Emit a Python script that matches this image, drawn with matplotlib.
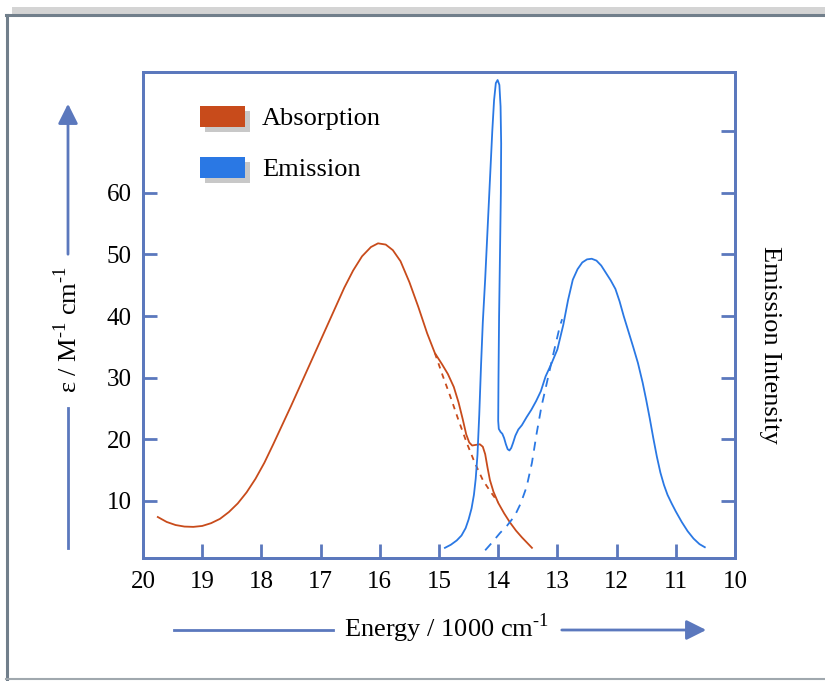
import matplotlib
matplotlib.use("Agg")
import matplotlib.pyplot as plt
from matplotlib.patches import Rectangle, FancyArrowPatch
from matplotlib.lines import Line2D

plt.rcParams['font.family'] = ['Liberation Serif', 'DejaVu Serif']
plt.rcParams['mathtext.fontset'] = 'custom'
plt.rcParams['mathtext.rm'] = 'Liberation Serif'

# absorption spectrum (energy in 1000 cm-1, epsilon)
abs_energy = [19.75, 19.6, 19.45, 19.3, 19.15, 19.0, 18.85, 18.7, 18.55, 18.4,
              18.25, 18.1, 17.95, 17.8, 17.65, 17.5, 17.35, 17.2, 17.05, 16.9,
              16.75, 16.6, 16.45, 16.3, 16.15, 16.03, 15.9, 15.78, 15.65, 15.5,
              15.35, 15.2, 15.07, 14.95, 14.85, 14.75, 14.67, 14.6, 14.54, 14.49,
              14.44, 14.38, 14.31, 14.26, 14.22, 14.18, 14.14, 14.08, 14.0, 13.9,
              13.8, 13.7, 13.6, 13.5, 13.43]
abs_eps = [7.4, 6.6, 6.1, 5.85, 5.8, 5.95, 6.4, 7.1, 8.2, 9.6,
           11.4, 13.6, 16.2, 19.2, 22.3, 25.4, 28.6, 31.8, 35.0, 38.2,
           41.4, 44.6, 47.4, 49.7, 51.2, 51.8, 51.6, 50.7, 48.9, 45.5,
           41.5, 37.2, 34.0, 32.2, 30.6, 28.5, 26.0, 23.3, 20.8, 19.5,
           19.0, 19.1, 19.2, 18.8, 17.6, 15.4, 13.4, 11.5, 9.7, 8.0,
           6.5, 5.2, 4.1, 3.1, 2.4]

# deconvoluted absorption band (dashed)
abs_fit_energy = [15.07, 14.94, 14.81, 14.67, 14.53, 14.4, 14.26, 14.13, 14.0]
abs_fit_eps = [34.0, 30.4, 27.0, 23.1, 19.4, 16.3, 13.4, 11.5, 9.8]

# emission spectrum
em_energy = [14.9, 14.8, 14.7, 14.62, 14.55, 14.5, 14.45, 14.41, 14.38, 14.35,
             14.32, 14.29, 14.26, 14.22, 14.18, 14.14, 14.1, 14.07, 14.04, 14.01,
             13.98, 13.96, 13.95, 13.955, 13.97, 13.985, 13.995, 14.0, 13.99, 13.96,
             13.93, 13.9, 13.87, 13.84, 13.81, 13.78, 13.75, 13.71, 13.66, 13.6,
             13.52, 13.44, 13.36, 13.28, 13.2, 13.1, 13.0, 12.9, 12.82, 12.74,
             12.66, 12.58, 12.5, 12.42, 12.34, 12.26, 12.18, 12.1, 12.02, 11.95,
             11.88, 11.8, 11.72, 11.64, 11.56, 11.5, 11.44, 11.38, 11.32, 11.26,
             11.2, 11.14, 11.07, 11.0, 10.9, 10.8, 10.7, 10.6, 10.51]
em_int = [2.4, 2.9, 3.6, 4.4, 5.6, 7.0, 8.8, 11.0, 13.6, 17.5,
          24.0, 32.0, 39.0, 46.0, 54.0, 62.0, 70.0, 75.0, 77.8, 78.3,
          77.5, 74.0, 68.0, 60.0, 50.0, 40.0, 30.0, 23.0, 21.7, 21.2,
          20.9, 20.2, 19.2, 18.4, 18.2, 18.6, 19.4, 20.6, 21.6, 22.3,
          23.6, 24.8, 26.2, 27.8, 30.2, 32.3, 34.6, 38.6, 42.6, 45.9,
          47.6, 48.7, 49.2, 49.3, 49.0, 48.2, 47.0, 45.8, 44.4, 42.4,
          40.0, 37.5, 35.0, 32.4, 29.2, 26.4, 23.4, 20.2, 17.2, 14.6,
          12.6, 11.0, 9.6, 8.3, 6.6, 5.1, 3.9, 3.0, 2.5]

# emission band (dashed)
em_fit_energy = [14.22, 14.1, 13.97, 13.85, 13.72, 13.62, 13.52, 13.43, 13.35,
                 13.27, 13.18, 13.07, 12.96, 12.92]
em_fit_int = [2.0, 3.3, 4.8, 6.0, 7.6, 9.6, 12.3, 16.2, 21.0,
              25.3, 29.1, 33.8, 38.3, 39.5]

x_ticks = [20, 19, 18, 17, 16, 15, 14, 13, 12, 11, 10]
y_ticks = [10, 20, 30, 40, 50, 60]
y_ticks_right = [10, 20, 30, 40, 50, 60, 70]

RED = '#c84b1b'
BLUE = '#2a78e4'
AXC = '#5b78bd'
W, H = 825, 681


def fx(px):
    return px / W


def fy(py):
    return 1 - py / H


fig = plt.figure(figsize=(8.25, 6.81), dpi=100)

# outer frame
fig.add_artist(Rectangle((fx(12), fy(15)), 1, 8 / H, transform=fig.transFigure,
                         facecolor='#d4d4d4', edgecolor='none'))
fig.add_artist(Line2D([fx(6), 1], [fy(15), fy(15)], transform=fig.transFigure,
                      color='#717f8b', lw=2.2))
fig.add_artist(Line2D([fx(7), fx(7)], [fy(15), 0], transform=fig.transFigure,
                      color='#717f8b', lw=2.2))
fig.add_artist(Line2D([fx(6), 1], [fy(679), fy(679)], transform=fig.transFigure,
                      color='#a0a8ae', lw=1.5))

ax = fig.add_axes([fx(143), fy(558), fx(735) - fx(143), fy(72) - fy(558)])
ax.plot(abs_energy, abs_eps, color=RED, lw=1.3)
ax.plot(abs_fit_energy, abs_fit_eps, color=RED, lw=1.3, ls=(0, (3, 3)))
ax.plot(em_energy, em_int, color=BLUE, lw=1.3)
ax.plot(em_fit_energy, em_fit_int, color=BLUE, lw=1.3, ls=(0, (5, 4)))

ax.set_xlim(20, 10)
ax.set_ylim(0.75, 79.6)
ax.set_xticks(x_ticks)
ax.set_xticklabels([str(t) for t in x_ticks])
ax.set_yticks(y_ticks)
ax.tick_params(direction='in', length=10, width=2, color=AXC, labelsize=18,
               pad=8)
ax.tick_params(axis='x', pad=9)
for s in ax.spines.values():
    s.set_color(AXC)
    s.set_linewidth(2)

ax2 = ax.twinx()
ax2.set_ylim(ax.get_ylim())
ax2.set_yticks(y_ticks_right)
ax2.set_yticklabels([])
ax2.tick_params(direction='in', length=10, width=2, color=AXC)
for s in ax2.spines.values():
    s.set_color(AXC)
    s.set_linewidth(2)

# legend swatches with shadow
for py, c, lab in [(106, RED, 'Absorption'), (157, BLUE, 'Emission')]:
    fig.add_artist(Rectangle((fx(205), fy(py + 26)), 45 / W, 21 / H,
                             transform=fig.transFigure, facecolor='#c8c8c8',
                             edgecolor='none'))
    fig.add_artist(Rectangle((fx(200), fy(py + 21)), 45 / W, 21 / H,
                             transform=fig.transFigure, facecolor=c,
                             edgecolor='none'))
    fig.text(fx(262), fy(py + 13), lab, fontsize=19, va='center', ha='left')

# axis titles with arrows
fig.text(fx(68), fy(330), 'ε / M$^{\\text{-1}}$ cm$^{\\text{-1}}$', rotation=90,
         fontsize=19, ha='center', va='center')
fig.add_artist(Line2D([fx(68), fx(68)], [fy(548), fy(408)],
                      transform=fig.transFigure, color=AXC, lw=2))
fig.add_artist(FancyArrowPatch((fx(68), fy(257)), (fx(68), fy(101)),
                               transform=fig.transFigure, color=AXC, lw=2,
                               arrowstyle='-|>,head_length=10,head_width=5',
                               mutation_scale=1.2))

fig.text(fx(446), fy(628), 'Energy / 1000 cm$^{\\text{-1}}$', fontsize=19,
         ha='center', va='center')
fig.add_artist(Line2D([fx(174), fx(333)], [fy(630), fy(630)],
                      transform=fig.transFigure, color=AXC, lw=2))
fig.add_artist(FancyArrowPatch((fx(559), fy(630)), (fx(709), fy(630)),
                               transform=fig.transFigure, color=AXC, lw=2,
                               arrowstyle='-|>,head_length=10,head_width=5',
                               mutation_scale=1.2))

fig.text(fx(770), fy(345), 'Emission Intensity', rotation=-90, fontsize=19,
         ha='center', va='center')

fig.savefig('out.png', dpi=100)
